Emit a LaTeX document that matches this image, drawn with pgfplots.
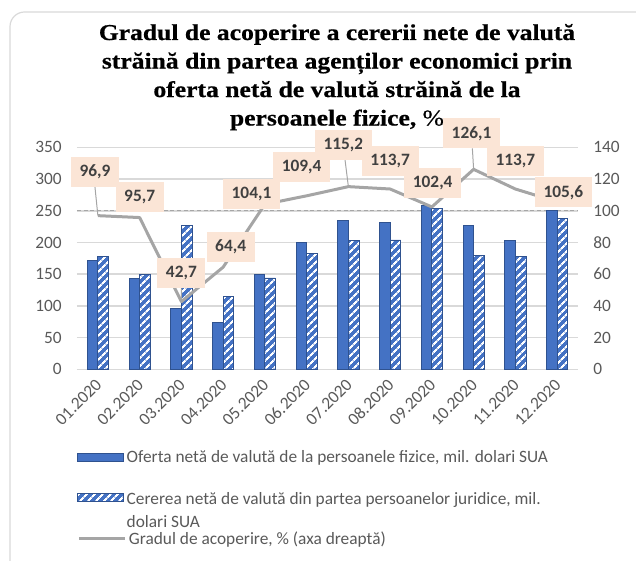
\documentclass[border=0pt]{standalone}
\usepackage{pgfplots}
\pgfplotsset{compat=1.18}
\usepackage{fontspec}
\setmainfont{Carlito}
\newfontfamily\titlefont[FakeStretch=1.13,FakeBold=0.6]{Liberation Serif}
\usetikzlibrary{patterns.meta}
\definecolor{barblue}{HTML}{4472C4}
\definecolor{edgeblue}{HTML}{2F528F}
\definecolor{linegray}{HTML}{A5A5A5}
\definecolor{gridc}{HTML}{D9D9D9}
\definecolor{txtgray}{HTML}{595959}
\definecolor{labfill}{HTML}{FBE5D6}
\definecolor{labtxt}{HTML}{404040}
\definecolor{dashc}{HTML}{A6A6A6}
\newcommand{\ticksize}{\fontsize{13}{17.5}\selectfont}
\newcommand{\labfont}{\fontsize{13}{15}\selectfont\bfseries}
\pgfplotsset{
  myarea/.style={legend image code/.code={\draw[##1] (0pt,-3.3pt) rectangle (34.5pt,3.3pt);}},
  myline/.style={legend image code/.code={\draw[##1] (0pt,0pt) -- (34.5pt,0pt);}},
}
\begin{document}
\begin{tikzpicture}
\useasboundingbox (-57.75pt,-143.03pt) rectangle (419.25pt,276.98pt);
\draw[gridc, line width=0.9pt, rounded corners=11pt] (-50.25pt,-170pt) rectangle (450pt,268pt);
\begin{scope}[every node/.style={anchor=base, font={\titlefont\fontsize{17}{20}\selectfont\bfseries}}]
\node at (195pt,246.98pt) {Gradul de acoperire a cererii nete de valută};
\node at (195pt,225.6pt) {străină din partea agenților economici prin};
\node at (195pt,204.2pt) {oferta netă de valută străină de la};
\node at (195pt,182.85pt) {persoanele fizice, {\mdseries\%}};
\end{scope}
\begin{axis}[
  at={(0pt,0pt)}, anchor=south west,
  scale only axis, width=375.75pt, height=166.5pt,
  xmin=-0.5, xmax=11.5, ymin=0, ymax=350,
  axis line style={draw=none},
  major tick length=0pt,
  xtick={0,...,11},
  xticklabels={01.2020,02.2020,03.2020,04.2020,05.2020,06.2020,07.2020,08.2020,09.2020,10.2020,11.2020,12.2020},
  xticklabel style={font=\ticksize, text=txtgray, xshift=3pt, yshift=-7pt, rotate=45, anchor=east},
  ytick={0,50,...,350},
  yticklabel style={font=\ticksize, text=txtgray, xshift=-8pt},
  ymajorgrids, grid style={draw=gridc, line width=1.2pt},
  /pgf/number format/assume math mode=true,
  legend style={at={(0,-0.34)}, anchor=north west, draw=none, fill=none,
    font=\ticksize, text=txtgray, inner xsep=0pt, row sep=13.8pt},
  legend cell align=left,
]
\addplot[forget plot, sharp plot, draw=dashc, dash pattern=on 3pt off 2pt, line width=0.75pt] coordinates {(-0.5,250)(11.5,250)};
\addplot[ybar, bar width=7.9pt, bar shift=-3.95pt, fill=barblue, draw=edgeblue, line width=0.6pt, myarea]
  coordinates {(0,171)(1,143.5)(2,96.6)(3,73.5)(4,150)(5,200)(6,234)(7,231.7)(8,258)(9,226.4)(10,203)(11,250)};
\addlegendentry{Oferta netă de valută de la persoanele fizice, mil. dolari SUA}
\addplot[ybar, bar width=7.9pt, bar shift=3.95pt, fill=barblue, draw=edgeblue, line width=0.6pt,
  postaction={pattern={Lines[angle=45,distance=4pt,line width=1.6pt]}, pattern color=white}, myarea]
  coordinates {(0,177.5)(1,150)(2,226.4)(3,115)(4,144)(5,183)(6,203)(7,204)(8,253.8)(9,179.7)(10,178.6)(11,237.5)};
\addlegendentry{\begin{tabular}[t]{@{}l@{}}Cererea netă de valută din partea persoanelor juridice, mil.\\ dolari SUA\end{tabular}}
\end{axis}
\begin{axis}[
  at={(0pt,0pt)}, anchor=south west,
  scale only axis, width=375.75pt, height=166.5pt,
  xmin=-0.5, xmax=11.5, ymin=0, ymax=140,
  axis x line=none, axis y line*=right, axis line style={draw=none},
  major tick length=0pt,
  ytick={0,20,...,140},
  yticklabel style={font=\ticksize, text=txtgray, xshift=8pt},
  /pgf/number format/assume math mode=true,
  clip=false,
  legend style={at={(0,-0.706)}, anchor=north west, draw=none, fill=none,
    font=\ticksize, text=txtgray, inner xsep=0pt},
  legend cell align=left,
]
\addplot[draw=linegray, line width=2.25pt, line join=round, mark=none, myline]
  coordinates {(0,96.9)(1,95.7)(2,42.7)(3,64.4)(4,104.1)(5,109.4)(6,115.2)(7,113.7)(8,102.4)(9,126.1)(10,113.7)(11,105.6)};
\addlegendentry{Gradul de acoperire, \% (axa dreaptă)}
\addplot[forget plot, draw=linegray, line width=0.75pt, mark=none, unbounded coords=jump]
  coordinates {(-0.07,115)(0,96.9)(0,nan)(2.0,51)(2,42.7)(2,nan)(5.92,132)(6,115.2)(6,nan)(8.97,139.3)(9,126.1)};
\addplot[forget plot, draw=none, mark=none, point meta=explicit,
  nodes near coords={\pgfmathprintnumber[fixed,fixed zerofill,precision=1,use comma]{\pgfplotspointmeta}},
  nodes near coords align=center,
  every node near coord/.style={fill=labfill, text=labtxt, font=\labfont, inner xsep=6.5pt, inner ysep=0pt, minimum height=22.5pt}]
  table[x=x, y=y, meta=v] {
x y v
-0.07 124.6 96.9
1.0 108.8 95.7
2.0 60.5 42.7
3.18 77.3 64.4
3.68 110.5 104.1
4.88 127.4 109.4
5.88 141.4 115.2
7.0 131.6 113.7
8.02 117.3 102.4
8.95 148.8 126.1
10.0 131.6 113.7
11.15 111.6 105.6
};
\end{axis}
\end{tikzpicture}
\end{document}
